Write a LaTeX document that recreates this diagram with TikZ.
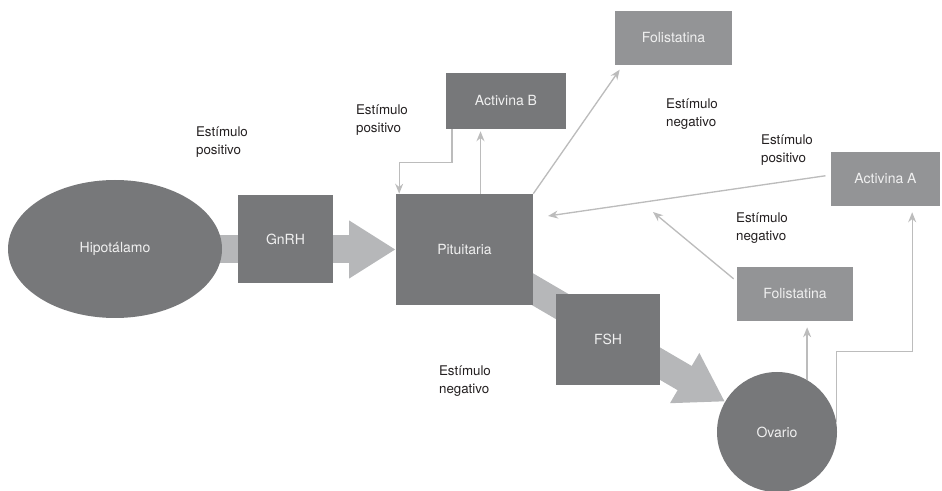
\documentclass[tikz,border=0pt]{standalone}
\usepackage{fontspec}
\setmainfont{TeX Gyre Heros}
\usetikzlibrary{arrows.meta,shapes.geometric,backgrounds}
\definecolor{boxdark}{HTML}{77787A}
\definecolor{boxlight}{HTML}{939496}
\definecolor{flowgray}{HTML}{B6B7B9}
\definecolor{linkgray}{HTML}{BCBCBC}
\definecolor{notetext}{HTML}{231F20}

\begin{document}
\begin{tikzpicture}[x=0.75pt, y=-0.75pt,
	box/.style={rectangle, fill=boxdark, text=white!94!black, inner sep=0pt, font=\fontsize{10.5}{12}\selectfont},
	lightbox/.style={box, fill=boxlight},
	note/.style={align=left, text=notetext, font=\fontsize{10}{13}\selectfont},
	link/.style={draw=linkgray, line width=1pt, -{Stealth[length=7.5pt, width=6pt]}},
	bigflow/.style={draw=flowgray, line width=21pt, -{Triangle[length=35pt, width=41pt]}}]
		\useasboundingbox (0,0) rectangle (942,491);
		
		%organs
		\node[box, ellipse, minimum width=160.5pt, minimum height=103.5pt] (hipo) at (115,249) {Hipotálamo};
		\node[box, minimum width=102.75pt, minimum height=83.25pt] (pit) at (464.5,249.5) {Pituitaria};
		\node[box, circle, minimum size=90pt] (ova) at (777,432) {Ovario};
		
		%hormones
		\node[box, minimum width=71.25pt, minimum height=66pt] (gnrh) at (285.5,239) {GnRH};
		\node[box, minimum width=78pt, minimum height=68.25pt] (fsh) at (608,339.5) {FSH};
		\node[box, minimum width=90pt, minimum height=42pt] (actb) at (506,101) {Activina B};
		\node[lightbox, minimum width=87.75pt, minimum height=40.5pt] (folup) at (673.5,38) {Folistatina};
		\node[lightbox, minimum width=81.75pt, minimum height=40.5pt] (acta) at (885.5,179) {Activina A};
		\node[lightbox, minimum width=87pt, minimum height=40.5pt] (foldown) at (795,294) {Folistatina};
		
		%labels
		\node[note] (n1) at (222,142) {Estímulo\\positivo};
		\node[note] (n2) at (382,120) {Estímulo\\positivo};
		\node[note] (n3) at (692,114) {Estímulo\\negativo};
		\node[note] (n4) at (787,150) {Estímulo\\positivo};
		\node[note] (n5) at (762,228) {Estímulo\\negativo};
		\node[note] (n6) at (465,381) {Estímulo\\negativo};
		
		%main flow
		\begin{pgfonlayer}{background}
			\draw[bigflow] (hipo.center |- pit.west) -- (pit.west);
			\draw[bigflow] (pit.center) -- (ova);
		\end{pgfonlayer}
		
		%feedback
		\coordinate (pb) at ([xshift=12pt]pit.north);
		\coordinate (aend) at (548,216);
		\coordinate (fend) at (653,212);
		\draw[link] ([xshift=-40.5pt]actb.south) -- ++(0,33) -| ([xshift=-49pt]pit.north);
		\draw[link, shorten >=1.5pt] (pb) -- (pb |- actb.south);
		\draw[link, shorten >=4pt] (pit.north east) -- ([xshift=6pt]folup.south west);
		\draw[link, shorten <=4pt] ([yshift=3pt]acta.west) -- (aend);
		\draw[link, shorten <=3pt] ([yshift=-11pt]foldown.north west) -- (fend);
		\draw[link, shorten >=4.5pt] (ova.60) -- (ova.60 |- foldown.south);
		\draw[link, shorten >=4.5pt] (ova.10) -- ++(0,-70) -| ([xshift=20pt]acta.south);
		\end{tikzpicture}
\end{document}
